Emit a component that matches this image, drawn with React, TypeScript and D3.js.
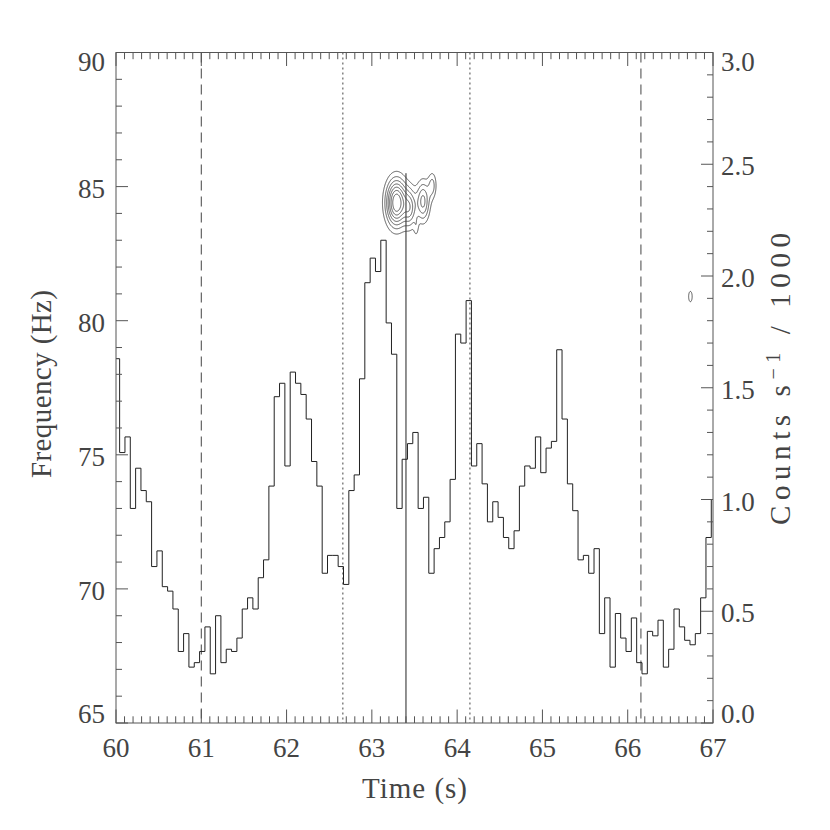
import React from 'react';
import * as d3 from 'd3';

const W = 830;
const H = 830;
const X0 = 116;
const X1 = 713;
const Y0 = 52.5;
const Y1 = 723;

// light curve: counts s^-1 / 1000, bins of 1/16 s
const binStart = 59.98;
const binWidth = 0.0625;
const counts = [
  1.63, 1.21, 1.28, 0.96, 1.14, 1.04, 0.99, 0.70, 0.77, 0.61,
  0.59, 0.51, 0.32, 0.40, 0.25, 0.27, 0.32, 0.43, 0.22, 0.48,
  0.27, 0.33, 0.32, 0.38, 0.51, 0.56, 0.51, 0.65, 0.73, 1.06,
  1.46, 1.52, 1.15, 1.57, 1.52, 1.47, 1.36, 1.17, 1.06, 0.67,
  0.75, 0.75, 0.70, 0.62, 1.04, 1.11, 1.54, 1.97, 2.08, 2.02,
  2.16, 1.79, 1.65, 0.96, 1.18, 1.25, 1.30, 0.96, 1.01, 0.67,
  0.78, 0.83, 0.90, 1.09, 1.74, 1.70, 1.89, 1.15, 1.25, 1.07,
  0.90, 0.99, 0.92, 0.83, 0.78, 0.86, 1.06, 1.15, 1.14, 1.28,
  1.12, 1.23, 1.26, 1.67, 1.36, 1.07, 0.95, 0.73, 0.75, 0.67,
  0.78, 0.40, 0.56, 0.25, 0.49, 0.38, 0.32, 0.47, 0.27, 0.22,
  0.41, 0.39, 0.46, 0.25, 0.33, 0.51, 0.43, 0.37, 0.35, 0.40,
  0.56, 0.83, 1.00,
];

const timeTicks = [60, 61, 62, 63, 64, 65, 66, 67];
const freqTicks = [65, 70, 75, 80, 85, 90];
const countTicks = [0.0, 0.5, 1.0, 1.5, 2.0, 2.5, 3.0];

const dashedTimes = [61.0, 66.155];
const dottedTimes = [62.66, 64.15];
const solidTimes = [63.4];

// dynamic power spectrum peaks (time s, freq Hz, widths, relative power)
const peakT = [63.29, 63.45, 63.6, 63.71, 63.52, 66.735];
const peakF = [84.4, 84.2, 84.45, 85.05, 83.45, 80.9];
const peakST = [0.085, 0.05, 0.055, 0.035, 0.02, 0.03];
const peakSF = [0.6, 0.5, 0.52, 0.35, 0.25, 0.28];
const peakAmp = [1.0, 0.45, 0.55, 0.3, 0.15, 0.19];
const contourLevels = [0.15, 0.27, 0.39, 0.51, 0.63, 0.75, 0.87];

const FONT = "'Liberation Serif', 'DejaVu Serif', serif";
const INK = '#444';
const AXIS = '#555';

export default function App() {
  const xs = d3.scaleLinear().domain([60, 67]).range([X0, X1]);
  const yF = d3.scaleLinear().domain([65, 90]).range([Y1, Y0]);
  const yC = d3.scaleLinear().domain([0, 3]).range([Y1, Y0]);

  // histogram path
  const pts: [number, number][] = counts.map((c, i) => [Math.max(60, binStart + i * binWidth), c]);
  pts.push([67, counts[counts.length - 1]]);
  const histLine = d3.line<[number, number]>()
    .x((d) => xs(d[0]))
    .y((d) => yC(d[1]))
    .curve(d3.curveStepAfter);
  const histPath = histLine(pts) || '';

  // contours
  const t0 = 63.0, t1 = 67.0, dt = 0.005;
  const f0 = 80.0, f1 = 86.5, df = 0.02;
  const nx = Math.round((t1 - t0) / dt) + 1;
  const ny = Math.round((f1 - f0) / df) + 1;
  const grid = new Float64Array(nx * ny);
  for (let j = 0; j < ny; j++) {
    const f = f0 + j * df;
    for (let i = 0; i < nx; i++) {
      const t = t0 + i * dt;
      let v = 0;
      for (let k = 0; k < peakT.length; k++) {
        const a = (t - peakT[k]) / peakST[k];
        const b = (f - peakF[k]) / peakSF[k];
        const e = 0.5 * (a * a + b * b);
        if (e < 20) v += peakAmp[k] * Math.exp(-e);
      }
      grid[i + j * nx] = v;
    }
  }
  const contours = d3.contours().size([nx, ny]).thresholds(contourLevels)(Array.from(grid));
  const proj = d3.geoTransform({
    point: function (x: number, y: number) {
      // @ts-ignore
      this.stream.point(xs(t0 + (x - 0.5) * dt), yF(f0 + (y - 0.5) * df));
    },
  });
  const geo = d3.geoPath(proj);

  // ticks
  const minorT = d3.range(0, 71).map((i) => 60 + i * 0.1);
  const minorF = d3.range(65, 91, 1);
  const minorC = d3.range(0, 31).map((i) => i * 0.1);

  const labelCenter = (y: number) => Math.min(Math.max(y + 2, Y0 + 9.5), Y1 - 9.5);

  return (
    <svg width={W} height={H} style={{ position: 'absolute', left: 0, top: 0, background: '#fff' }}>
      <rect x={0} y={0} width={W} height={H} fill="#fff" />

      {/* vertical markers */}
      {dashedTimes.map((t, i) => (
        <line key={'da' + i} x1={xs(t)} x2={xs(t)} y1={Y0} y2={Y1} stroke="#444" strokeWidth={1} strokeDasharray="10,6" />
      ))}
      {dottedTimes.map((t, i) => (
        <line key={'do' + i} x1={xs(t)} x2={xs(t)} y1={Y0} y2={Y1} stroke="#444" strokeWidth={1} strokeDasharray="2,3" />
      ))}
      {solidTimes.map((t, i) => (
        <line key={'so' + i} x1={xs(t)} x2={xs(t)} y1={yF(85.5)} y2={Y1} stroke="#222" strokeWidth={1} />
      ))}

      {/* contours */}
      <g fill="none" stroke="#444" strokeWidth={0.9}>
        {contours.map((c, i) => (
          <path key={'c' + i} d={geo(c as any) || ''} />
        ))}
      </g>

      {/* light curve */}
      <path d={histPath} fill="none" stroke="#222" strokeWidth={1} />

      {/* frame */}
      <rect x={X0} y={Y0} width={X1 - X0} height={Y1 - Y0} fill="none" stroke={AXIS} strokeWidth={1} />

      {/* time ticks bottom & top */}
      {minorT.map((t, i) => {
        const major = i % 10 === 0;
        const len = major ? 13.5 : 6.7;
        const x = xs(t);
        return (
          <g key={'tt' + i} stroke={AXIS} strokeWidth={1}>
            <line x1={x} x2={x} y1={Y1} y2={Y1 - len} />
            <line x1={x} x2={x} y1={Y0} y2={Y0 + len} />
          </g>
        );
      })}
      {/* frequency ticks left */}
      {minorF.map((f, i) => {
        const major = f % 5 === 0;
        const len = major ? 12 : 6;
        const y = yF(f);
        return <line key={'ft' + i} x1={X0} x2={X0 + len} y1={y} y2={y} stroke={AXIS} strokeWidth={1} />;
      })}
      {/* counts ticks right */}
      {minorC.map((c, i) => {
        const major = i % 5 === 0;
        const len = major ? 12 : 6;
        const y = yC(c);
        return <line key={'ct' + i} x1={X1} x2={X1 - len} y1={y} y2={y} stroke={AXIS} strokeWidth={1} />;
      })}

      {/* tick labels */}
      <g fontFamily={FONT} fontSize={27} fill={INK}>
        {timeTicks.map((t) => (
          <text key={'tl' + t} x={xs(t)} y={757} textAnchor="middle">{t}</text>
        ))}
        {freqTicks.map((f) => (
          <text key={'fl' + f} x={105} y={labelCenter(yF(f)) + 9} textAnchor="end">{f}</text>
        ))}
        {countTicks.map((c) => (
          <text key={'cl' + c} x={721} y={labelCenter(yC(c)) + 9} textAnchor="start">{c.toFixed(1)}</text>
        ))}
      </g>

      {/* axis titles */}
      <g fontFamily={FONT} fontSize={29} fill={INK}>
        <text x={xs(63.5)} y={798} textAnchor="middle" textLength={105} lengthAdjust="spacing">Time (s)</text>
        <text transform={`translate(51,${384}) rotate(-90)`} textAnchor="middle" textLength={188} lengthAdjust="spacing">Frequency (Hz)</text>
        <text transform={`translate(790,${379}) rotate(-90)`} textAnchor="middle" textLength={292} lengthAdjust="spacing">
          Counts s<tspan dy={-10} fontSize={20}>−1</tspan><tspan dy={10}>   /   1000</tspan>
        </text>
      </g>
    </svg>
  );
}
